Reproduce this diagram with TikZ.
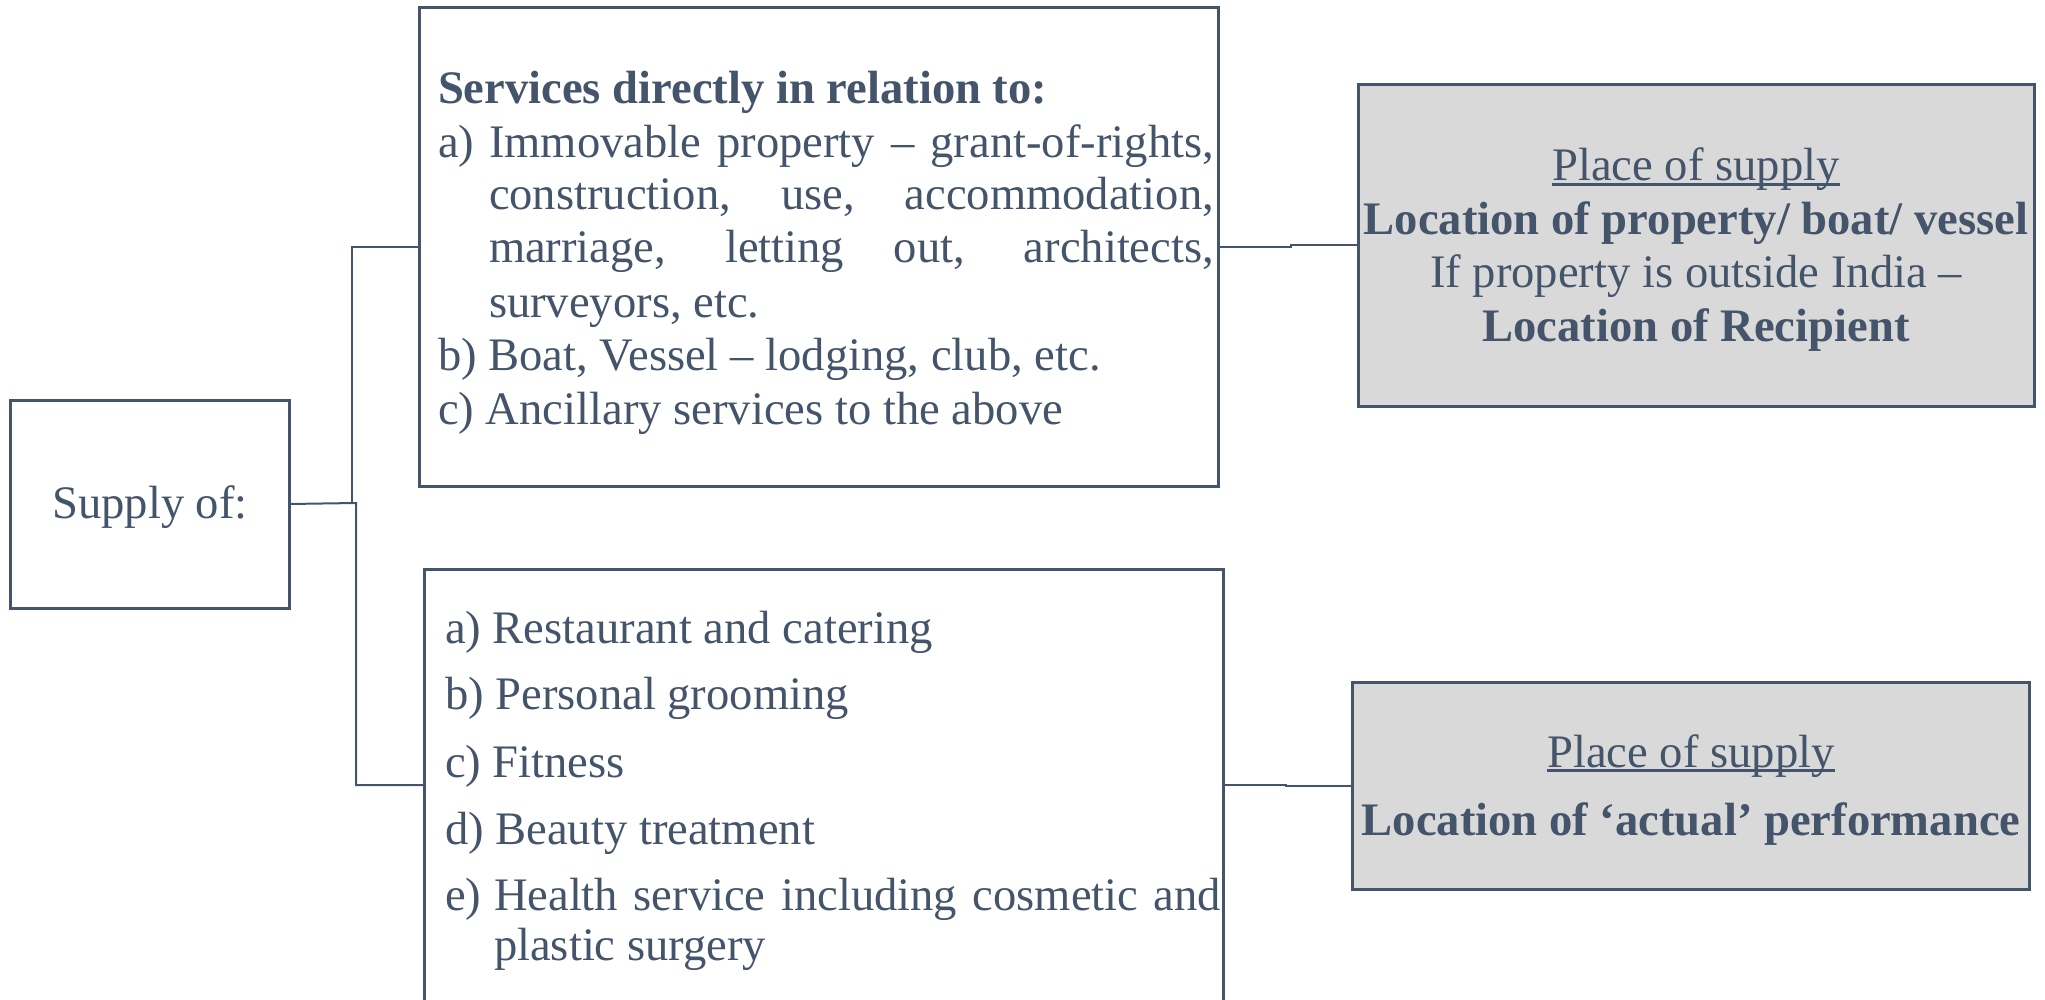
\documentclass[tikz,border=0pt]{standalone}
\usepackage{fontspec}
\setmainfont{Liberation Serif}
\usetikzlibrary{calc}
\definecolor{ink}{HTML}{44546A}
\definecolor{boxgray}{HTML}{D9D9D9}
\newlength\px
\setlength\px{0.5pt}
\newsavebox\ulbox
\newcommand\myul[1]{\sbox\ulbox{#1}\rlap{\rule[-0.1em]{\wd\ulbox}{0.05em}}\usebox\ulbox}
\begin{document}
\begin{tikzpicture}[x=0.5pt,y=-0.5pt,
  every node/.style={inner sep=0pt,outer sep=0pt,text=ink,font=\fontsize{23.3pt}{26.6pt}\selectfont},
  box/.style={draw=ink,line width=1.5pt,anchor=north west},
  graybox/.style={box,fill=boxgray},
  conn/.style={draw=ink,line width=1pt},
  txt/.style={anchor=base west},
  ctxt/.style={anchor=base}]
\useasboundingbox (0,0) rectangle (2045,1000);

% boxes
\node[box,minimum width=279\px,minimum height=208\px] (supply) at (10,400) {};
\node[box,minimum width=799\px,minimum height=478\px] (top) at (419,8) {};
\node[box,minimum width=799\px,minimum height=460\px] (bot) at (424,569) {};
\node[graybox,minimum width=676\px,minimum height=321\px] (rt) at (1358,85) {};
\node[graybox,minimum width=677\px,minimum height=207\px] (rb) at (1352,682) {};

% supply text
\node[ctxt] (supplytxt) at (150,518) {Supply of:};

% top box text
\node[txt] (t1) at (438,104) {\textbf{Services directly in relation to:}};
\node[txt] (t2a) at (438,158) {a)};
\node[txt] (t2) at (489,158) {\makebox[725\px][s]{Immovable property – grant-of-rights,}};
\node[txt] (t3) at (489,210) {\makebox[725\px][s]{construction, use, accommodation,}};
\node[txt] (t4) at (489,263) {\makebox[725\px][s]{marriage, letting out, architects,}};
\node[txt] (t5) at (489,317) {surveyors, etc.};
\node[txt] (t6) at (438,370) {b) Boat, Vessel – lodging, club, etc.};
\node[txt] (t7) at (438,424) {c) Ancillary services to the above};

% bottom box text
\node[txt] (b1) at (445,643) {a) Restaurant and catering};
\node[txt] (b2) at (445,709) {b) Personal grooming};
\node[txt] (b3) at (445,777) {c) Fitness};
\node[txt] (b4) at (445,844) {d) Beauty treatment};
\node[txt] (b5a) at (445,910) {e)};
\node[txt] (b5) at (494,910) {\makebox[727\px][s]{Health service including cosmetic and}};
\node[txt] (b6) at (494,960) {plastic surgery};

% right top text
\node[ctxt] (r1) at (1696,181) {\myul{Place of supply}};
\node[ctxt] (r2) at (1696,235) {\textbf{Location of property/ boat/ vessel}};
\node[ctxt] (r3) at (1696,288) {If property is outside India –};
\node[ctxt] (r4) at (1696,342) {\textbf{Location of Recipient}};

% right bottom text
\node[ctxt] (s1) at (1691,767) {\myul{Place of supply}};
\node[ctxt] (s2) at (1691,835) {\textbf{Location of ‘actual’ performance}};

% connectors
\coordinate (jb) at (356,503);
\coordinate (jt) at (352,503);
\coordinate (botin) at (424,785);
\draw[conn] (supply.east) -- (jb) |- (botin);
\draw[conn] (jt) |- (top.west);
\draw[conn] (top.east) -- ++(73,0) |- (rt.west);
\coordinate (botout) at (1223,785);
\draw[conn] (botout) -- ++(63,0) |- (rb.west);
\end{tikzpicture}
\end{document}
